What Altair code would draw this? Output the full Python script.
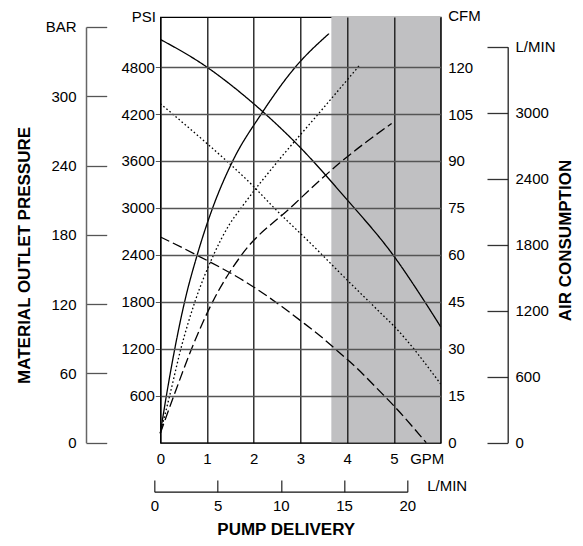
import altair as alt
import pandas as pd

# ---------------- data ----------------
# Pressure curves (PSI) vs pump delivery (GPM)
p_solid_gpm = [0, 0.92, 1.97, 3.0, 3.93, 5.0, 5.66, 6.0]
p_solid_psi = [5154, 4831, 4346, 3769, 3150, 2383, 1800, 1481]
p_dot_gpm = [0, 0.92, 1.42, 1.97, 2.42, 3.28, 3.93, 4.71, 5.0, 6.0]
p_dot_psi = [4333, 3864, 3600, 3290, 3010, 2510, 2119, 1660, 1490, 750]
p_dash_gpm = [0, 0.74, 1.97, 2.6, 3.0, 3.43, 3.74, 4.21, 4.71, 5.0, 5.69]
p_dash_psi = [2630, 2410, 2000, 1740, 1560, 1360, 1200, 950, 649, 470, 0]

# Air consumption curves (CFM) vs pump delivery (GPM)
a_solid_gpm = [0, 0.13, 0.31, 0.52, 0.79, 1.12, 1.55, 2.16, 2.89, 3.61]
a_solid_cfm = [3, 15, 30, 45, 60, 75, 90, 105, 120, 130.7]
a_dot_gpm = [0, 0.20, 0.44, 0.74, 1.14, 1.47, 1.73, 2.52, 3.38, 4.26]
a_dot_cfm = [3, 15, 30, 45, 60, 69.5, 75, 90, 105, 120.5]
a_dash_gpm = [0, 0.29, 0.67, 1.12, 1.74, 2.78, 3.89, 4.95]
a_dash_cfm = [3, 15, 30, 45, 60, 75, 90, 102]

# axes
gpm_ticks = [0, 1, 2, 3, 4, 5, 6]
lmin_ticks = [0, 5, 10, 15, 20]
psi_ticks = [600, 1200, 1800, 2400, 3000, 3600, 4200, 4800]
cfm_ticks = [0, 15, 30, 45, 60, 75, 90, 105, 120]
bar_ticks = [0, 60, 120, 180, 240, 300, 360]
air_lmin_ticks = [0, 600, 1200, 1800, 2400, 3000, 3600]

GPM_MAX = 6
PSI_MAX = 5440
CFM_MAX = 136
shade_start, shade_end = 3.66, 6.0

# ---------------- tables ----------------
def long(gpm, val, style, name, col):
    return pd.DataFrame({"gpm": gpm, col: val, "style": style, "series": name})

press_df = pd.concat([
    long(p_solid_gpm, p_solid_psi, "solid", "p1", "psi"),
    long(p_dot_gpm, p_dot_psi, "dotted", "p2", "psi"),
    long(p_dash_gpm, p_dash_psi, "dashed", "p3", "psi"),
])
air_df = pd.concat([
    long(a_solid_gpm, a_solid_cfm, "solid", "a1", "cfm"),
    long(a_dot_gpm, a_dot_cfm, "dotted", "a2", "cfm"),
    long(a_dash_gpm, a_dash_cfm, "dashed", "a3", "cfm"),
])
shade_df = pd.DataFrame({"x0": [shade_start], "x1": [shade_end], "y0": [0], "y1": [PSI_MAX]})
bar_df = pd.DataFrame({"bar": bar_ticks})
airl_df = pd.DataFrame({"lmin": air_lmin_ticks})
lmin_df = pd.DataFrame({"lmin": lmin_ticks})

W, H = 280.4, 425.7
NUM = "Liberation Sans"
TITLE = "Liberation Sans"
TSIZE = 17

dash_scale = alt.Scale(domain=["solid", "dotted", "dashed"],
                       range=[[1, 0], [1.6, 2.4], [10, 4]])

gpm_scale = alt.Scale(domain=[0, GPM_MAX], nice=False, zero=False)
psi_scale = alt.Scale(domain=[0, PSI_MAX], nice=False)
cfm_scale = alt.Scale(domain=[0, CFM_MAX], nice=False)

gpm_axis = alt.Axis(
    values=gpm_ticks, grid=True, gridColor="#111", gridWidth=1.3,
    ticks=False, tickSize=0, domain=True, domainColor="black", format="d",
    labelExpr="datum.value == 6 ? 'GPM' : datum.label",
    labelOffset={"condition": {"test": "datum.value == 6", "value": -14}, "value": 0},
    labelBaseline="middle", labelPadding=16, labelFlush=False, labelOverlap=False,
    labelFont=NUM, labelFontSize=15, labelColor="black",
    title="PUMP DELIVERY", titleFont=TITLE, titleFontSize=TSIZE, titleFontWeight="bold",
    titleX=125.4, titleY=87, titleAlign="center", titleBaseline="middle",
    titleColor="black", zindex=1,
)
psi_axis = alt.Axis(
    values=psi_ticks, grid=True, gridColor="#555", gridWidth=1.6,
    tickSize=5, tickColor="#555", domain=True, domainColor="black", format="d",
    labelPadding=1, labelFont=NUM, labelFontSize=15, labelColor="black",
    labelOverlap=False, labelFlush=False,
    title="PSI", titleAngle=0, titleX=-5, titleY=0, titleAlign="right",
    titleBaseline="middle", titleFont=NUM, titleFontSize=15,
    titleFontWeight="normal", titleColor="black", zindex=1,
)

rect = alt.Chart(shade_df).mark_rect(color="#c0c0c2").encode(
    x=alt.X("x0:Q", scale=gpm_scale, axis=gpm_axis),
    x2="x1:Q",
    y=alt.Y("y0:Q", scale=psi_scale, axis=psi_axis),
    y2="y1:Q",
)
press = alt.Chart(press_df).mark_line(color="black", strokeWidth=1.3,
                                      interpolate="monotone").encode(
    x=alt.X("gpm:Q", scale=gpm_scale, axis=gpm_axis),
    y=alt.Y("psi:Q", scale=psi_scale, axis=psi_axis),
    detail="series:N",
    strokeDash=alt.StrokeDash("style:N", scale=dash_scale, legend=None),
)
layer_a = alt.layer(rect, press)

cfm_axis = alt.Axis(
    orient="right", values=cfm_ticks, grid=False, ticks=False, tickSize=0,
    domain=False, labelPadding=7, labelFont=NUM, labelFontSize=15, format="d",
    labelColor="black", labelOverlap=False, labelFlush=False,
    title="CFM", titleAngle=0, titleX=7, titleY=-1, titleAlign="left",
    titleBaseline="middle", titleFont=NUM, titleFontSize=15,
    titleFontWeight="normal", titleColor="black",
)
air = alt.Chart(air_df).mark_line(color="black", strokeWidth=1.3,
                                  interpolate="monotone").encode(
    x=alt.X("gpm:Q", scale=gpm_scale, axis=None),
    y=alt.Y("cfm:Q", scale=cfm_scale, axis=cfm_axis),
    detail="series:N",
    strokeDash=alt.StrokeDash("style:N", scale=dash_scale, legend=None),
)

bar_axis = alt.Axis(
    orient="right", offset=-354.7, values=bar_ticks, grid=False,
    tickSize=20.7, tickColor="#555", tickWidth=1.3,
    domain=True, domainColor="#666", domainWidth=1.5, format="d",
    labelExpr="datum.value == 360 ? 'BAR' : datum.label",
    labelAlign="right", labelPadding=-30.7, labelBaseline="middle",
    labelFont=NUM, labelFontSize=15, labelColor="black",
    labelOverlap=False, labelFlush=False,
    title="MATERIAL OUTLET PRESSURE", titleAngle=270, titleX=-62, titleY=238,
    titleAlign="center", titleBaseline="middle", titleFont=TITLE,
    titleFontSize=TSIZE, titleFontWeight="bold", titleColor="black",
)
bar = alt.Chart(bar_df).mark_point(opacity=0, size=0).encode(
    y=alt.Y("bar:Q", scale=alt.Scale(domain=[0, 360], range=[H, 10], nice=False),
            axis=bar_axis),
)

airl_axis = alt.Axis(
    orient="left", offset=-347.4, values=air_lmin_ticks, grid=False,
    tickSize=20.7, tickColor="#333", tickWidth=1.3,
    domain=True, domainColor="#222", domainWidth=1.3, format="d",
    labelExpr="datum.value == 3600 ? 'L/MIN' : datum.label",
    labelAlign="left", labelPadding=-28, labelBaseline="middle",
    labelFont=NUM, labelFontSize=15, labelColor="black",
    labelOverlap=False, labelFlush=False,
    title="AIR CONSUMPTION", titleAngle=270, titleX=58, titleY=223,
    titleAlign="center", titleBaseline="middle", titleFont=TITLE,
    titleFontSize=TSIZE, titleFontWeight="bold", titleColor="black",
)
airl = alt.Chart(airl_df).mark_point(opacity=0, size=0).encode(
    y=alt.Y("lmin:Q", scale=alt.Scale(domain=[0, 3600], range=[H, 29.7], nice=False),
            axis=airl_axis),
)

lmin_axis = alt.Axis(
    orient="top", offset=-474.7, values=lmin_ticks, grid=False,
    tickSize=11.7, tickColor="#333", tickWidth=1.3,
    domain=True, domainColor="#111", domainWidth=1.3, format="d",
    labelPadding=-25.7, labelBaseline="middle", labelAlign="center",
    labelFont=NUM, labelFontSize=15, labelColor="black",
    labelOverlap=False, labelFlush=False,
    title="L/MIN", titleAngle=0, titleX=266.4, titleY=-5.7,
    titleAlign="left", titleBaseline="middle", titleFont=NUM,
    titleFontSize=15, titleFontWeight="normal", titleColor="black",
)
lmin = alt.Chart(lmin_df).mark_point(opacity=0, size=0).encode(
    x=alt.X("lmin:Q", scale=alt.Scale(domain=[0, 20], range=[-6, 247], nice=False),
            axis=lmin_axis),
)

chart = alt.layer(layer_a, air, bar, airl, lmin).resolve_scale(
    x="independent", y="independent"
).properties(
    width=W, height=H,
    autosize=alt.AutoSizeParams(type="none"),
    padding={"left": 152.3, "top": 9, "right": 134.3, "bottom": 95},
    background="white",
).configure_view(stroke="black", strokeWidth=1.2)

chart.save("out.html", embed_options={"renderer": "svg", "actions": False})
